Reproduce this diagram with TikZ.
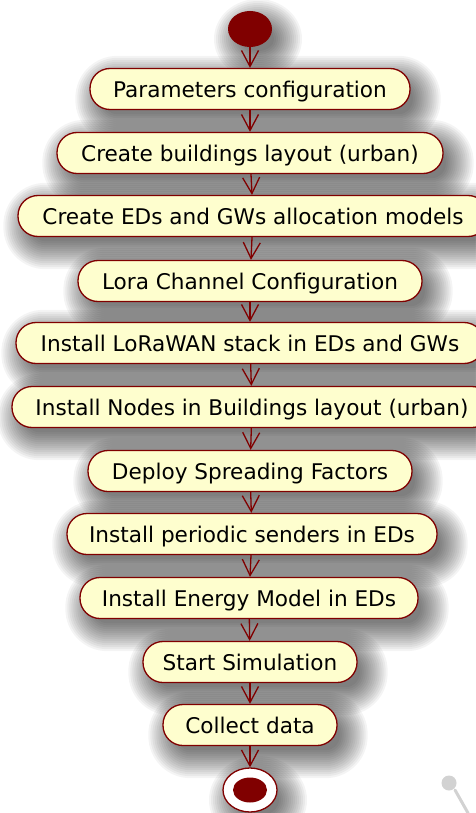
\documentclass[tikz,border=0pt]{standalone}
\usepackage{fontspec}
\setmainfont{DejaVu Sans}
\usetikzlibrary{arrows.meta,shapes.geometric,calc}
\pgfdeclarelayer{background}
\pgfsetlayers{background,main}
\definecolor{umlred}{RGB}{128,0,0}
\definecolor{umlfill}{RGB}{254,254,206}
\tikzset{
  act/.style={draw=umlred, fill=umlfill, line width=1.3pt, rounded corners=20pt,
    minimum height=41pt, inner sep=0pt, text=black, text height=17pt, text depth=0pt,
    font=\fontsize{21.6}{24}\selectfont},
  flow/.style={draw=umlred, line width=1.3pt,
    -{Straight Barb[length=16pt,width=17pt,line width=1.3pt]}},
  startdot/.style={ellipse, fill=umlred, minimum width=44pt, minimum height=36pt, inner sep=0pt},
  endring/.style={ellipse, draw=umlred, fill=white, line width=1.3pt, minimum width=54pt,
    minimum height=44pt, inner sep=0pt},
  enddot/.style={ellipse, fill=umlred, minimum width=34pt, minimum height=25pt, inner sep=0pt},
  shadowlayer/.style={black, opacity=0.045},
}
\newcommand\mkshadow[1]{%
  \begin{pgfonlayer}{background}
  \foreach \i in {-6,-4,...,22}{
    \pgfmathsetmacro\rr{max(1,20+\i)}
    \fill[shadowlayer, rounded corners=\rr pt]
      ($(#1.south west)+(8-\i,-10-\i)$) rectangle ($(#1.north east)+(8+\i,-10+\i)$);
  }
  \end{pgfonlayer}}
\newcommand\mkovalshadow[3]{%
  \begin{pgfonlayer}{background}
  \foreach \i in {-6,-4,...,22}{
    \fill[shadowlayer] ($(#1.center)+(8,-10)$) ellipse ({#2+\i} and {#3+\i});
  }
  \end{pgfonlayer}}
\begin{document}
\begin{tikzpicture}[x=1pt,y=1pt]
\useasboundingbox (0,0) rectangle (475,-813);
\begin{pgfonlayer}{background}
\fill[white] (0,0) rectangle (475,-813);
\end{pgfonlayer}
% pin mark
\draw[gray!35, line width=3pt, line cap=round] (455,-790) -- (468,-813);
\fill[gray!35] (449,-783) circle (7.5);
\node[startdot] (start) at (250,-29) {};
\node[act, minimum width=320pt] (n1) at (250,-89) {Parameters configuration};
\node[act, minimum width=386pt] (n2) at (250,-153) {Create buildings layout (urban)};
\node[act, minimum width=470pt] (n3) at (253,-216) {Create EDs and GWs allocation models};
\node[act, minimum width=344pt] (n4) at (250,-281) {Lora Channel Configuration};
\node[act, minimum width=468pt] (n5) at (250,-343) {Install LoRaWAN stack in EDs and GWs};
\node[act, minimum width=480pt] (n6) at (252,-407) {Install Nodes in Buildings layout (urban)};
\node[act, minimum width=324pt] (n7) at (250,-471) {Deploy Spreading Factors};
\node[act, minimum width=370pt] (n8) at (252,-534) {Install periodic senders in EDs};
\node[act, minimum width=338pt] (n9) at (249,-598) {Install Energy Model in EDs};
\node[act, minimum width=214pt] (n10) at (250,-662) {Start Simulation};
\node[act, minimum width=174pt] (n11) at (250,-725) {Collect data};
\node[endring] (end) at (250,-790) {};
\node[enddot] (enddot) at (end.center) {};
\mkovalshadow{start}{22}{18}
\foreach \n in {n1,n2,n3,n4,n5,n6,n7,n8,n9,n10,n11}{\mkshadow{\n}}
\mkovalshadow{end}{27}{22}
\draw[flow] (start) -- (n1);
\draw[flow] (n1) -- (n2);
\draw[flow] (n2) -- (n3);
\draw[flow] (n3) -- (n4);
\draw[flow] (n4) -- (n5);
\draw[flow] (n5) -- (n6);
\draw[flow] (n6) -- (n7);
\draw[flow] (n7) -- (n8);
\draw[flow] (n8) -- (n9);
\draw[flow] (n9) -- (n10);
\draw[flow] (n10) -- (n11);
\draw[flow] (n11) -- (end);
\end{tikzpicture}
\end{document}
